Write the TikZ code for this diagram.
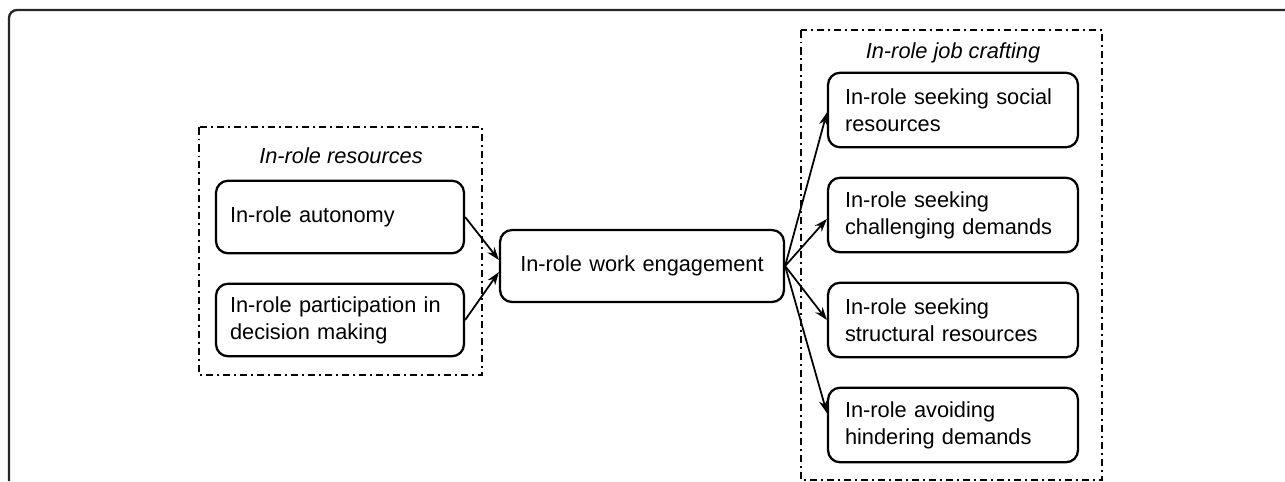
\documentclass[tikz,border=0pt]{standalone}
\usepackage{fontspec}
\setmainfont{Liberation Sans}
\usetikzlibrary{arrows.meta}

\begin{document}
\begin{tikzpicture}[x=0.02cm,y=-0.02cm,
    font=\fontsize{12.4}{15.3}\selectfont,
    dashdot/.style={line width=1pt, dash pattern=on 0.15cm off 0.08cm on 0.03cm off 0.08cm},
    arr/.style={line width=1pt, -{Stealth[length=0.26cm,width=0.18cm]}}]

        \useasboundingbox (0,0) rectangle (1285,481);
        \draw[line width=1.3pt, black!85, rounded corners=0.16cm] (9,481) -- (9,10) -- (1285,10);

        % groups
        \draw[dashdot] (199,127) rectangle (482,375);
        \draw[dashdot] (801,30) rectangle (1102,480);
        \node (restitle) at (341,156) {\itshape In-role resources};
        \node (crafttitle) at (953,53) {\itshape In-role job crafting};

        \begin{scope}[every node/.style={draw, line width=1.3pt, rounded corners=0.24cm,
            align=left, inner xsep=0.28cm, text width=4.4cm, minimum height=1.45cm}]
          \node (auton) at (340,217) {In-role autonomy};
          \node (partic) at (340,320) {In-role participation in\\decision making};
        \end{scope}

        \node[draw, line width=1.3pt, rounded corners=0.24cm, align=center,
          inner xsep=0.2cm, text width=5.28cm, minimum height=1.44cm] (engage) at (642,266) {In-role work engagement};

        \begin{scope}[every node/.style={draw, line width=1.3pt, rounded corners=0.24cm,
            align=left, inner xsep=0.34cm, text width=4.32cm, minimum height=1.49cm}]
          \node (social) at (953,110) {In-role seeking social\\resources};
          \node (challeng) at (953,215) {In-role seeking\\challenging demands};
          \node (struct) at (953,320) {In-role seeking\\structural resources};
          \node (hinder) at (953,425) {In-role avoiding\\hindering demands};
        \end{scope}

        \draw[arr] (auton.east) -- ([yshift=0.12cm]engage.west);
        \draw[arr] (partic.east) -- ([yshift=-0.12cm]engage.west);
        \draw[arr] (engage.east) -- ([yshift=-0.05cm]social.west);
        \draw[arr] (engage.east) -- ([yshift=-0.08cm]challeng.west);
        \draw[arr] (engage.east) -- (struct.west);
        \draw[arr] (engage.east) -- ([yshift=0.24cm]hinder.west);

      \end{tikzpicture}
\end{document}
